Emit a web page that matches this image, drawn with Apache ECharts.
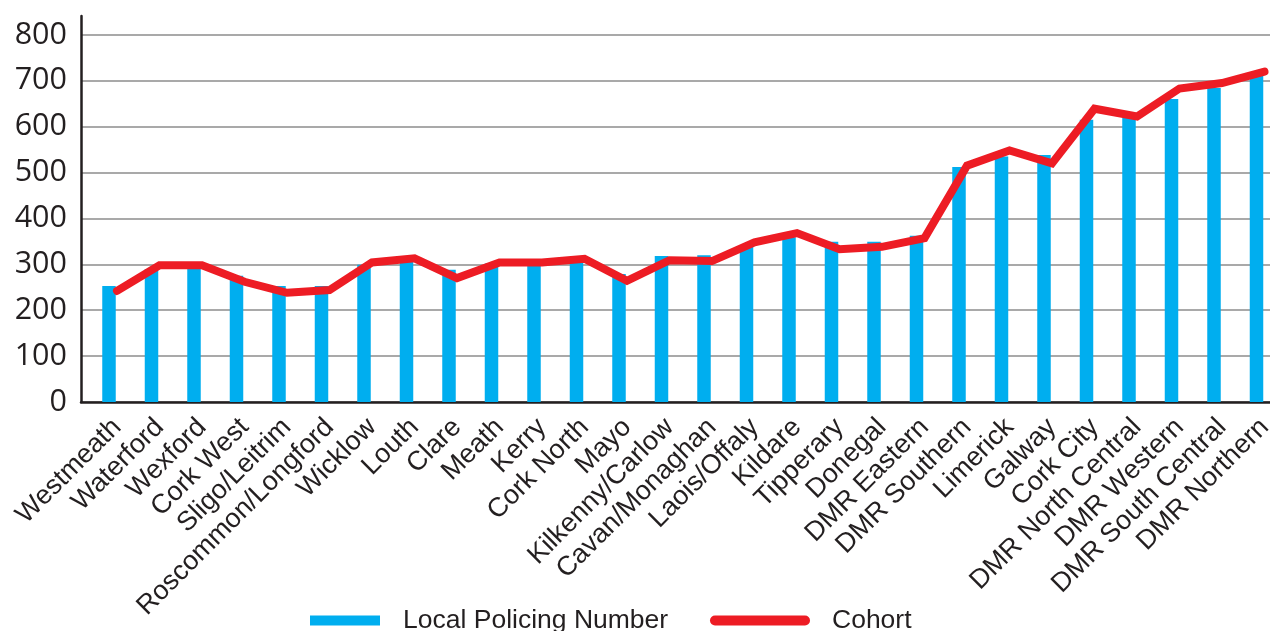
<!DOCTYPE html>
<html>
<head>
<meta charset="utf-8">
<script src="https://cdn.jsdelivr.net/npm/echarts@6/dist/echarts.min.js"></script>
<style>
html,body{margin:0;padding:0;background:#fff;}
#chart{width:1270px;height:631px;}
</style>
</head>
<body>
<div id="chart"></div>
<script>
var categories = ['Westmeath','Waterford','Wexford','Cork West','Sligo/Leitrim','Roscommon/Longford','Wicklow','Louth','Clare','Meath','Kerry','Cork North','Mayo','Kilkenny/Carlow','Cavan/Monaghan','Laois/Offaly','Kildare','Tipperary','Donegal','DMR Eastern','DMR Southern','Limerick','Galway','Cork City','DMR North Central','DMR Western','DMR South Central','DMR Northern'];
var localPolicingNumber = [253,290,300,275,253,253,299,312,288,302,300,306,279,318,320,338,359,349,349,362,512,535,538,615,620,660,684,712];
var cohort = [242,298,298,262,238,244,304,313,270,304,304,312,264,309,307,348,368,333,338,357,515,548,520,639,622,683,695,720];
var yTicks = [0,100,200,300,400,500,600,700,800];

var dark = '#231F20';
var chart = echarts.init(document.getElementById('chart'), null, {renderer:'canvas'});
var yMax = 841;
var option = {
  animation: false,
  backgroundColor: '#ffffff',
  grid: [
    {left: 81, top: 16, width: 1189, height: 386, containLabel: false, outerBoundsMode: 'none'},
    {left: 87.75, top: 16, width: 1190, height: 386, containLabel: false, outerBoundsMode: 'none'},
    {left: 95.75, top: 16, width: 1190, height: 386, containLabel: false, outerBoundsMode: 'none'}
  ],
  legend: [
    {
      left: 310, top: 607, padding: 0, itemWidth: 70, itemHeight: 10, icon: 'rect',
      data: ['Local Policing Number'],
      textStyle: {fontFamily: 'Liberation Sans', fontSize: 26.5, color: dark, padding: [0,0,0,18]}
    },
    {
      left: 710, top: 607, padding: 0, itemWidth: 100, itemHeight: 10,
      data: [{name: 'Cohort', icon: 'path://M5,0 H95 A5,5 0 0 1 95,10 H5 A5,5 0 0 1 5,0 Z'}],
      textStyle: {fontFamily: 'Liberation Sans', fontSize: 26.5, color: dark, padding: [0,0,0,17]}
    }
  ],
  xAxis: [
    {
      type: 'category', gridIndex: 0, data: categories, boundaryGap: true,
      axisLine: {show: true, lineStyle: {color: dark, width: 2.5}},
      axisTick: {show: false}, axisLabel: {show: false}, splitLine: {show: false}
    },
    {type: 'category', gridIndex: 1, data: categories, show: false},
    {
      type: 'category', gridIndex: 2, data: categories, boundaryGap: true,
      axisLine: {show: false}, axisTick: {show: false},
      axisLabel: {interval: 0, rotate: 45, margin: 21, fontFamily: 'Liberation Sans', fontSize: 27, color: dark}
    }
  ],
  yAxis: [
    {
      type: 'value', gridIndex: 0, min: 0, max: yMax, interval: 100,
      axisLine: {show: true, lineStyle: {color: dark, width: 2.5}},
      axisTick: {show: false},
      axisLabel: {
        show: true, margin: 14, showMaxLabel: false,
        fontFamily: 'Open Sans', fontSize: 30.5, color: dark,
        formatter: function (v) { return yTicks.indexOf(v) >= 0 ? String(v) : ''; }
      },
      splitLine: {show: true, showMaxLine: false, lineStyle: {color: '#8c8c8c', width: 1.5}}
    },
    {type: 'value', gridIndex: 1, min: 0, max: yMax, interval: 100, show: false, splitLine: {show: false}},
    {type: 'value', gridIndex: 2, min: 0, max: yMax, interval: 100, show: false, splitLine: {show: false}}
  ],
  series: [
    {
      name: 'Local Policing Number', type: 'bar', xAxisIndex: 1, yAxisIndex: 1,
      data: localPolicingNumber, barWidth: 13.5,
      itemStyle: {color: '#00AEEF'}
    },
    {
      name: 'Cohort', type: 'line', xAxisIndex: 2, yAxisIndex: 2,
      data: cohort, showSymbol: false, symbol: 'none',
      lineStyle: {color: '#ED1C24', width: 8, cap: 'round', join: 'miter'},
      itemStyle: {color: '#ED1C24'}
    }
  ]
};
chart.setOption(option);
</script>
</body>
</html>
